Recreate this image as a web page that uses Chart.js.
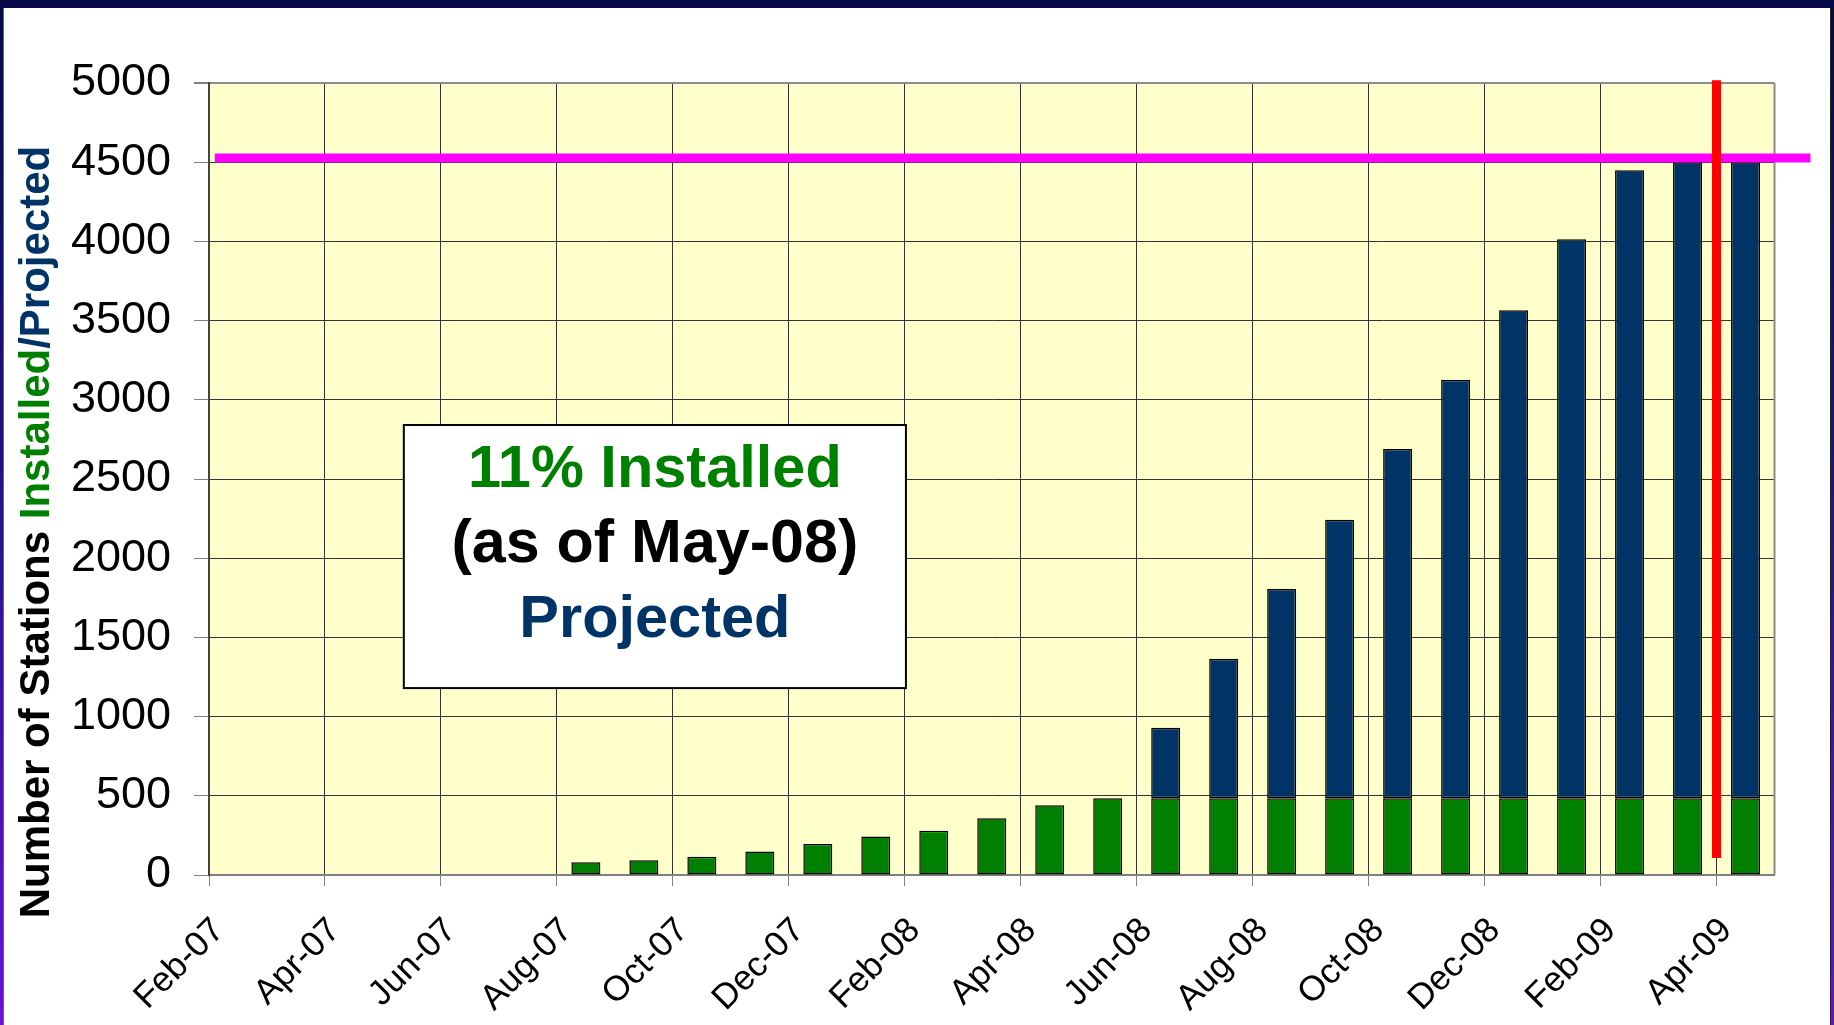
<!DOCTYPE html>
<html>
<head>
<meta charset="utf-8">
<script src="https://cdn.jsdelivr.net/npm/chart.js@4.4.1/dist/chart.umd.min.js"></script>
<style>
  html, body { margin: 0; padding: 0; }
  body {
    width: 1834px; height: 1025px; overflow: hidden; position: relative;
    background: linear-gradient(to bottom, #060a46 0%, #1c1480 45%, #6a10d8 100%);
  }
  #frame {
    position: absolute; left: 3px; top: 8px; width: 1826px; height: 1017px;
    background: #fff; border-left: 1px solid #666; border-right: 1px solid #222;
  }
  #wrap { position: absolute; left: 0; top: 0; width: 1834px; height: 1025px; }
</style>
</head>
<body>
<div id="frame"></div>
<div id="wrap"><canvas id="chart" width="1834" height="1025"></canvas></div>
<script>
const allMonths = [
  'Feb-07', 'Mar-07', 'Apr-07', 'May-07', 'Jun-07', 'Jul-07', 'Aug-07', 'Sep-07', 'Oct-07', 'Nov-07', 'Dec-07',
  'Jan-08', 'Feb-08', 'Mar-08', 'Apr-08', 'May-08', 'Jun-08', 'Jul-08', 'Aug-08', 'Sep-08', 'Oct-08', 'Nov-08', 'Dec-08',
  'Jan-09', 'Feb-09', 'Mar-09', 'Apr-09', 'May-09'
];
const tickLabels = [
  'Feb-07', 'Apr-07', 'Jun-07', 'Aug-07', 'Oct-07', 'Dec-07', 'Feb-08',
  'Apr-08', 'Jun-08', 'Aug-08', 'Oct-08', 'Dec-08', 'Feb-09', 'Apr-09'
];
const barMonths = [
  'Aug-07', 'Sep-07', 'Oct-07', 'Nov-07', 'Dec-07', 'Jan-08', 'Feb-08', 'Mar-08', 'Apr-08', 'May-08',
  'Jun-08', 'Jul-08', 'Aug-08', 'Sep-08', 'Oct-08', 'Nov-08', 'Dec-08', 'Jan-09', 'Feb-09', 'Mar-09', 'Apr-09'
];
// stations installed (green)
const installed = [80, 93, 116, 148, 196, 243, 280, 359, 440, 485, 485, 485, 485, 485, 485, 485, 485, 485, 485, 485, 485];
// top of the projected (navy) bar
const projectedTotal = [null, null, null, null, null, null, null, null, null, null,
  930, 1366, 1806, 2243, 2689, 3127, 3565, 4013, 4449, 4500, 4500];
const targetLevel = 4527;
const yTicks = { min: 0, max: 5000, step: 500 };

const GREEN = '#008000';
const NAVY = '#003366';
const FONT = 'Arial, "Liberation Sans", sans-serif';

const xOf = m => allMonths.indexOf(m) + 0.5;

const plotFrame = {
  id: 'plotFrame',
  beforeDraw(chart) {
    const { ctx, chartArea: a } = chart;
    ctx.save();
    ctx.fillStyle = '#FFFFCC';
    ctx.fillRect(a.left, a.top, a.width, a.height);
    ctx.restore();
  },
  beforeDatasetsDraw(chart) {
    const { ctx, chartArea: a } = chart;
    ctx.save();
    ctx.strokeStyle = '#8c8c8c';
    ctx.lineWidth = 2;
    ctx.beginPath();
    ctx.moveTo(a.right, a.top);
    ctx.lineTo(a.right, a.bottom);
    ctx.stroke();
    ctx.restore();
  }
};

const markers = {
  id: 'markers',
  afterDatasetsDraw(chart) {
    const { ctx, scales: { x, y } } = chart;
    ctx.save();
    // target line
    ctx.strokeStyle = '#FF00FF';
    ctx.lineWidth = 9;
    ctx.beginPath();
    ctx.moveTo(x.getPixelForValue(0.1), y.getPixelForValue(targetLevel));
    ctx.lineTo(x.getPixelForValue(27.62), y.getPixelForValue(targetLevel));
    ctx.stroke();
    // today line
    ctx.strokeStyle = '#FF0000';
    ctx.beginPath();
    ctx.moveTo(x.getPixelForValue(26), y.getPixelForValue(5018));
    ctx.lineTo(x.getPixelForValue(26), y.getPixelForValue(107));
    ctx.stroke();

    // text box
    const bx1 = x.getPixelForValue(3.36), bx2 = x.getPixelForValue(12.02);
    const by1 = y.getPixelForValue(2841), by2 = y.getPixelForValue(1180);
    ctx.fillStyle = '#fff';
    ctx.fillRect(bx1, by1, bx2 - bx1, by2 - by1);
    ctx.strokeStyle = '#000';
    ctx.lineWidth = 2;
    ctx.strokeRect(bx1, by1, bx2 - bx1, by2 - by1);
    const cx = (bx1 + bx2) / 2;
    ctx.textAlign = 'center';
    ctx.textBaseline = 'alphabetic';
    ctx.font = 'bold 59.5px ' + FONT;
    ctx.fillStyle = GREEN;
    ctx.fillText('11% Installed', cx, by1 + 62);
    ctx.font = 'bold 61px ' + FONT;
    ctx.fillStyle = '#000';
    ctx.fillText('(as of May-08)', cx, by1 + 137);
    ctx.font = 'bold 59.5px ' + FONT;
    ctx.fillStyle = NAVY;
    ctx.fillText('Projected', cx, by1 + 212);
    ctx.restore();
  }
};

const yTitle = {
  id: 'yTitle',
  afterDraw(chart) {
    const { ctx, chartArea: a } = chart;
    const parts = [['Number of Stations ', '#000'], ['Installed', GREEN], ['/', NAVY], ['Projected', NAVY]];
    ctx.save();
    ctx.font = 'bold 42px ' + FONT;
    const total = parts.reduce((s, p) => s + ctx.measureText(p[0]).width, 0);
    ctx.translate(37, a.top + 449);
    ctx.rotate(-Math.PI / 2);
    ctx.textAlign = 'left';
    ctx.textBaseline = 'middle';
    let pos = -total / 2;
    parts.forEach(([t, c]) => {
      ctx.fillStyle = c;
      ctx.fillText(t, pos, 0);
      pos += ctx.measureText(t).width;
    });
    ctx.restore();
  }
};

new Chart(document.getElementById('chart'), {
  type: 'bar',
  data: {
    datasets: [
      {
        label: 'Installed',
        data: barMonths.map((m, i) => ({ x: xOf(m), y: installed[i] })),
        backgroundColor: GREEN,
        borderColor: '#000',
        borderWidth: 1.5,
        borderSkipped: false
      },
      {
        label: 'Projected',
        data: barMonths.map((m, i) => ({
          x: xOf(m),
          y: projectedTotal[i] == null ? null : projectedTotal[i] - installed[i]
        })),
        backgroundColor: NAVY,
        borderColor: '#000',
        borderWidth: 1.5,
        borderSkipped: false
      }
    ]
  },
  options: {
    responsive: false,
    animation: false,
    devicePixelRatio: 1,
    layout: { padding: { left: 0, top: 83, right: 59.5, bottom: 0 } },
    datasets: { bar: { categoryPercentage: 1, barPercentage: 0.5 } },
    plugins: { legend: { display: false }, tooltip: { enabled: false } },
    scales: {
      x: {
        type: 'linear',
        stacked: true,
        offset: false,
        min: 0,
        max: 27,
        afterFit: s => { s.height = 150; },
        grid: { offset: false, color: '#333', lineWidth: 1, tickLength: 11, tickColor: '#808080' },
        border: { color: '#808080', width: 2 },
        ticks: {
          stepSize: 2,
          includeBounds: false,
          autoSkip: false,
          minRotation: 45,
          maxRotation: 45,
          padding: 24,
          labelOffset: 10,
          color: '#000',
          font: { family: FONT, size: 35 },
          callback: v => tickLabels[v / 2]
        }
      },
      y: {
        stacked: true,
        min: yTicks.min,
        max: yTicks.max,
        afterFit: s => { s.width = 209; },
        grid: {
          color: c => (c.tick && c.tick.value === yTicks.max ? '#8c8c8c' : '#333'),
          lineWidth: c => (c.tick && c.tick.value === yTicks.max ? 2 : 1),
          tickLength: 15,
          tickColor: '#808080'
        },
        border: { color: '#444', width: 2 },
        ticks: {
          stepSize: yTicks.step,
          padding: 23,
          color: '#000',
          font: { family: FONT, size: 45 },
          callback: v => String(v)
        }
      }
    }
  },
  plugins: [plotFrame, markers, yTitle]
});
</script>
</body>
</html>
